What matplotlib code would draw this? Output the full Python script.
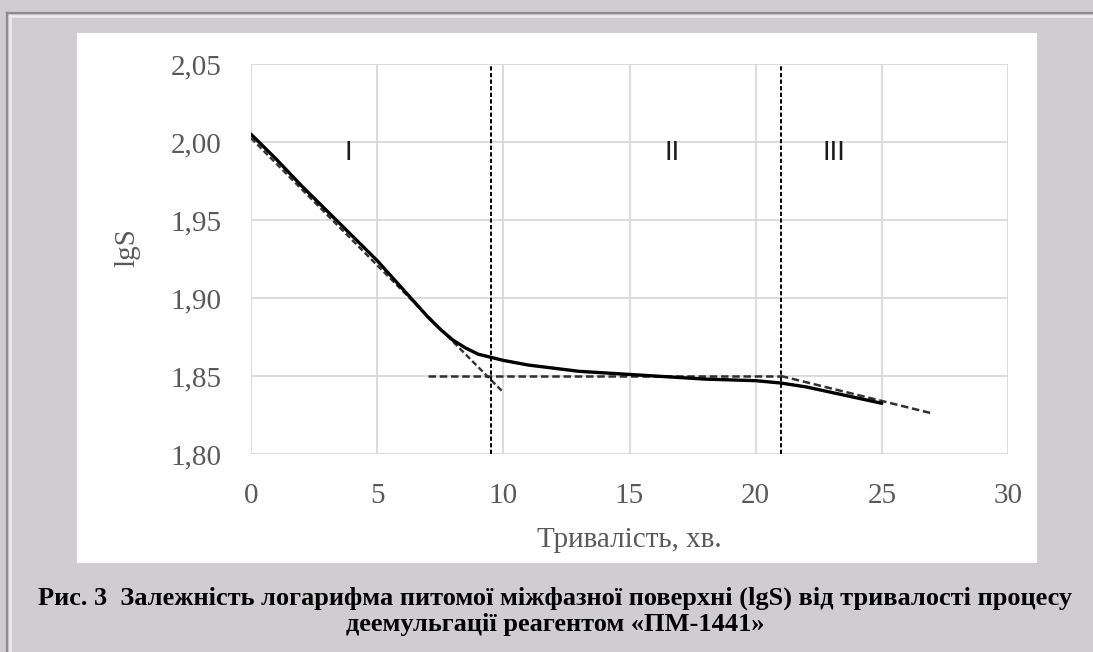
import numpy as np
import matplotlib
matplotlib.use("Agg")
import matplotlib.pyplot as plt
from matplotlib.patches import Rectangle
from matplotlib.lines import Line2D

# --- дані ---
t_min = [0, 1, 2, 3, 4, 5, 6, 7, 7.5, 8, 8.5, 9, 9.5, 10, 11, 12, 13, 14,
         15, 16, 17, 18, 19, 20, 21, 22, 23, 24, 25]
lgS = [2.005, 1.989, 1.972, 1.956, 1.940, 1.924, 1.906, 1.888, 1.880, 1.873,
       1.868, 1.864, 1.862, 1.860, 1.857, 1.855, 1.853, 1.852, 1.851, 1.850,
       1.849, 1.848, 1.8475, 1.847, 1.8455, 1.843, 1.8395, 1.836, 1.8325]

# апроксимуючі прямі (дотичні) для трьох стадій
tan1_x, tan1_y = [0, 10], [2.0025, 1.8395]
tan2_x, tan2_y = [7, 21], [1.850, 1.850]
tan3_x, tan3_y = [21, 27], [1.850, 1.826]

# межі стадій
bounds = [9.5, 21.0]
stage_labels = ["I", "II", "III"]
stage_x = [3.85, 16.7, 23.1]
stage_y = [1.993, 1.993, 1.993]

x_ticks = [0, 5, 10, 15, 20, 25, 30]
y_ticks = [1.80, 1.85, 1.90, 1.95, 2.00, 2.05]
y_tick_labels = ["1,80", "1,85", "1,90", "1,95", "2,00", "2,05"]

caption_1 = "Рис. 3  Залежність логарифма питомої міжфазної поверхні (lgS) від тривалості процесу"
caption_2 = "деемульгації реагентом «ПМ-1441»"

W, H = 1093, 652
fig = plt.figure(figsize=(W / 100, H / 100), dpi=100)
fig.patch.set_facecolor("#cfcdcf")

# рамка та біла підкладка діаграми
fig.add_artist(Line2D([7 / W, 7 / W], [0, 1 - 13 / H], transform=fig.transFigure,
                      color="#8c8c8c", lw=1.6, zorder=-2))
fig.add_artist(Line2D([7 / W, 1], [1 - 13 / H, 1 - 13 / H], transform=fig.transFigure,
                      color="#8c8c8c", lw=1.6, zorder=-2))
fig.add_artist(Line2D([9.5 / W, 1], [1 - 15.5 / H, 1 - 15.5 / H], transform=fig.transFigure,
                      color="#ececec", lw=1.8, zorder=-2))
fig.add_artist(Line2D([9.5 / W, 9.5 / W], [0, 1 - 15.5 / H], transform=fig.transFigure,
                      color="#ececec", lw=1.8, zorder=-2))
fig.add_artist(Rectangle((77 / W, 1 - 563 / H), 960 / W, 530 / H, transform=fig.transFigure,
                         facecolor="white", edgecolor="none", zorder=-1))

ax = fig.add_axes([251 / W, 1 - 454 / H, 757 / W, 390 / H])
ax.set_zorder(1)
ax.set_facecolor("white")

# основна крива
ax.plot(t_min, lgS, color="black", lw=2.4, solid_capstyle="round", zorder=4)

# дотичні
ax.plot(tan1_x, tan1_y, color="#333333", lw=1.7, dashes=(2.5, 1.3), zorder=3)
ax.plot(tan2_x, tan2_y, color="#303030", lw=1.8, dashes=(3, 1.5), zorder=3)
ax.plot(tan3_x, tan3_y, color="#303030", lw=1.8, dashes=(3, 1.5), zorder=3)

for b in bounds:
    ax.axvline(b, color="black", lw=1.4, dashes=(2.2, 1.2), zorder=3)

for lab, sx, sy in zip(stage_labels, stage_x, stage_y):
    ax.text(sx, sy, lab, fontsize=20, family="Liberation Sans", color="#1a1a1a",
            ha="center", va="center", zorder=5)

ax.set_xlim(0, 30)
ax.set_ylim(1.80, 2.05)
ax.set_xticks(x_ticks)
ax.set_yticks(y_ticks)
ax.set_yticklabels(y_tick_labels)
ax.grid(True, color="#d9d9d9", lw=1.3)
ax.set_axisbelow(True)
for s in ax.spines.values():
    s.set_visible(False)
ax.tick_params(length=0, labelsize=21, labelcolor="#595959")
ax.tick_params(axis="y", pad=21)
ax.tick_params(axis="x", pad=21)
for lbl in ax.get_xticklabels() + ax.get_yticklabels():
    lbl.set_family("Liberation Serif")

ax.set_xlabel("Тривалість, хв.", fontsize=21, family="Liberation Serif",
              color="#595959", labelpad=13)
ax.set_ylabel("lgS", fontsize=21, family="Liberation Serif", color="#595959",
              labelpad=22)
ax.yaxis.label.set_y(0.53)

fig.text(555 / W, 1 - 598 / H, caption_1, ha="center", va="center", fontsize=19,
         family="Liberation Serif", weight="bold", color="black")
fig.text(555 / W, 1 - 624 / H, caption_2, ha="center", va="center", fontsize=19,
         family="Liberation Serif", weight="bold", color="black")

fig.savefig("out.png", dpi=100, facecolor=fig.get_facecolor())
